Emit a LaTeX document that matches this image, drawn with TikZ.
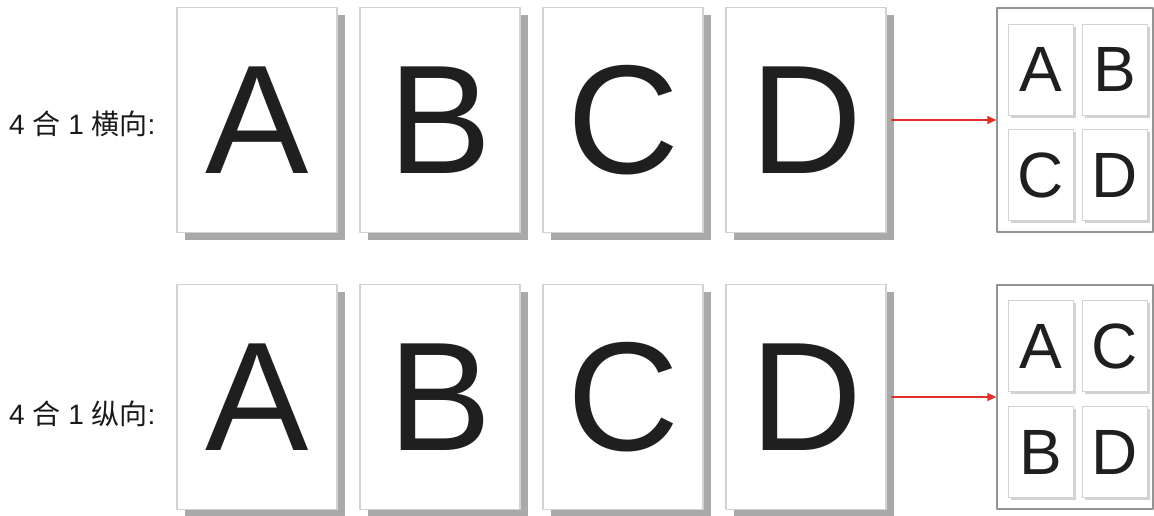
\documentclass[tikz,border=0pt]{standalone}
\usepackage{fontspec}
\setmainfont{Liberation Sans}
\newfontfamily\cjk{Noto Sans CJK SC}
\usetikzlibrary{shadows,arrows.meta}
\definecolor{pageline}{HTML}{D2D2D2}
\definecolor{pageshade}{HTML}{A9A9A9}
\definecolor{arrowred}{HTML}{E0312C}
\tikzset{
  bigpage/.style={draw=pageline,line width=1.2pt,fill=white,inner sep=0pt,
    minimum width=160pt,minimum height=225pt,text=black!88,
    font=\fontsize{155}{155}\selectfont,
    drop shadow={shadow xshift=8pt,shadow yshift=-7pt,fill=pageshade,opacity=1}},
  sheet/.style={draw=gray!85,line width=1.3pt,fill=white,inner sep=0pt,
    minimum width=156pt,minimum height=224pt},
  minipage/.style={draw=pageline,line width=1pt,fill=white,inner sep=0pt,
    minimum width=65pt,minimum height=91pt,text=black!88,
    font=\fontsize{64}{64}\selectfont,
    drop shadow={shadow xshift=2.5pt,shadow yshift=-2.5pt,fill=gray!35,opacity=1}},
  rowlabel/.style={anchor=west,inner sep=0pt,text=black!90,font=\fontsize{28}{32}\selectfont},
}
\begin{document}
\begin{tikzpicture}[x=1pt,y=-1pt,line cap=round,line join=round]
\useasboundingbox (0,0) rectangle (1154,515);
% row labels
\node[rowlabel] (lbltop) at (9,124) {4 {\cjk 合} 1 {\cjk 横向}:};
\node[rowlabel] (lblbot) at (9,414) {4 {\cjk 合} 1 {\cjk 纵向}:};
% single pages
\foreach \l [count=\i] in {A,B,C,D}
{
  \node[bigpage] (top\l) at ({257+183*(\i-1)},120) {\l};
  \node[bigpage] (bot\l) at ({257+183*(\i-1)},397) {\l};
}
% 4 up sheets
\node[sheet] (topres) at (1075,120) {};
\node[sheet] (botres) at (1075,397) {};
\node[minipage] (tA) at (1040.5,69.5) {A};
\node[minipage] (tB) at (1115,69.5) {B};
\node[minipage] (tC) at (1040.5,175) {C};
\node[minipage] (tD) at (1115,175) {D};
\node[minipage] (bA) at (1040.5,346) {A};
\node[minipage] (bC) at (1115,346) {C};
\node[minipage] (bB) at (1040.5,452) {B};
\node[minipage] (bD) at (1115,452) {D};
% arrows
\draw[arrowred,line width=1.2pt,-{Triangle[length=9pt,width=8pt]},shorten <=5pt] (topD.east) -- (topres.west);
\draw[arrowred,line width=1.2pt,-{Triangle[length=9pt,width=8pt]},shorten <=5pt] (botD.east) -- (botres.west);
\end{tikzpicture}
\end{document}
